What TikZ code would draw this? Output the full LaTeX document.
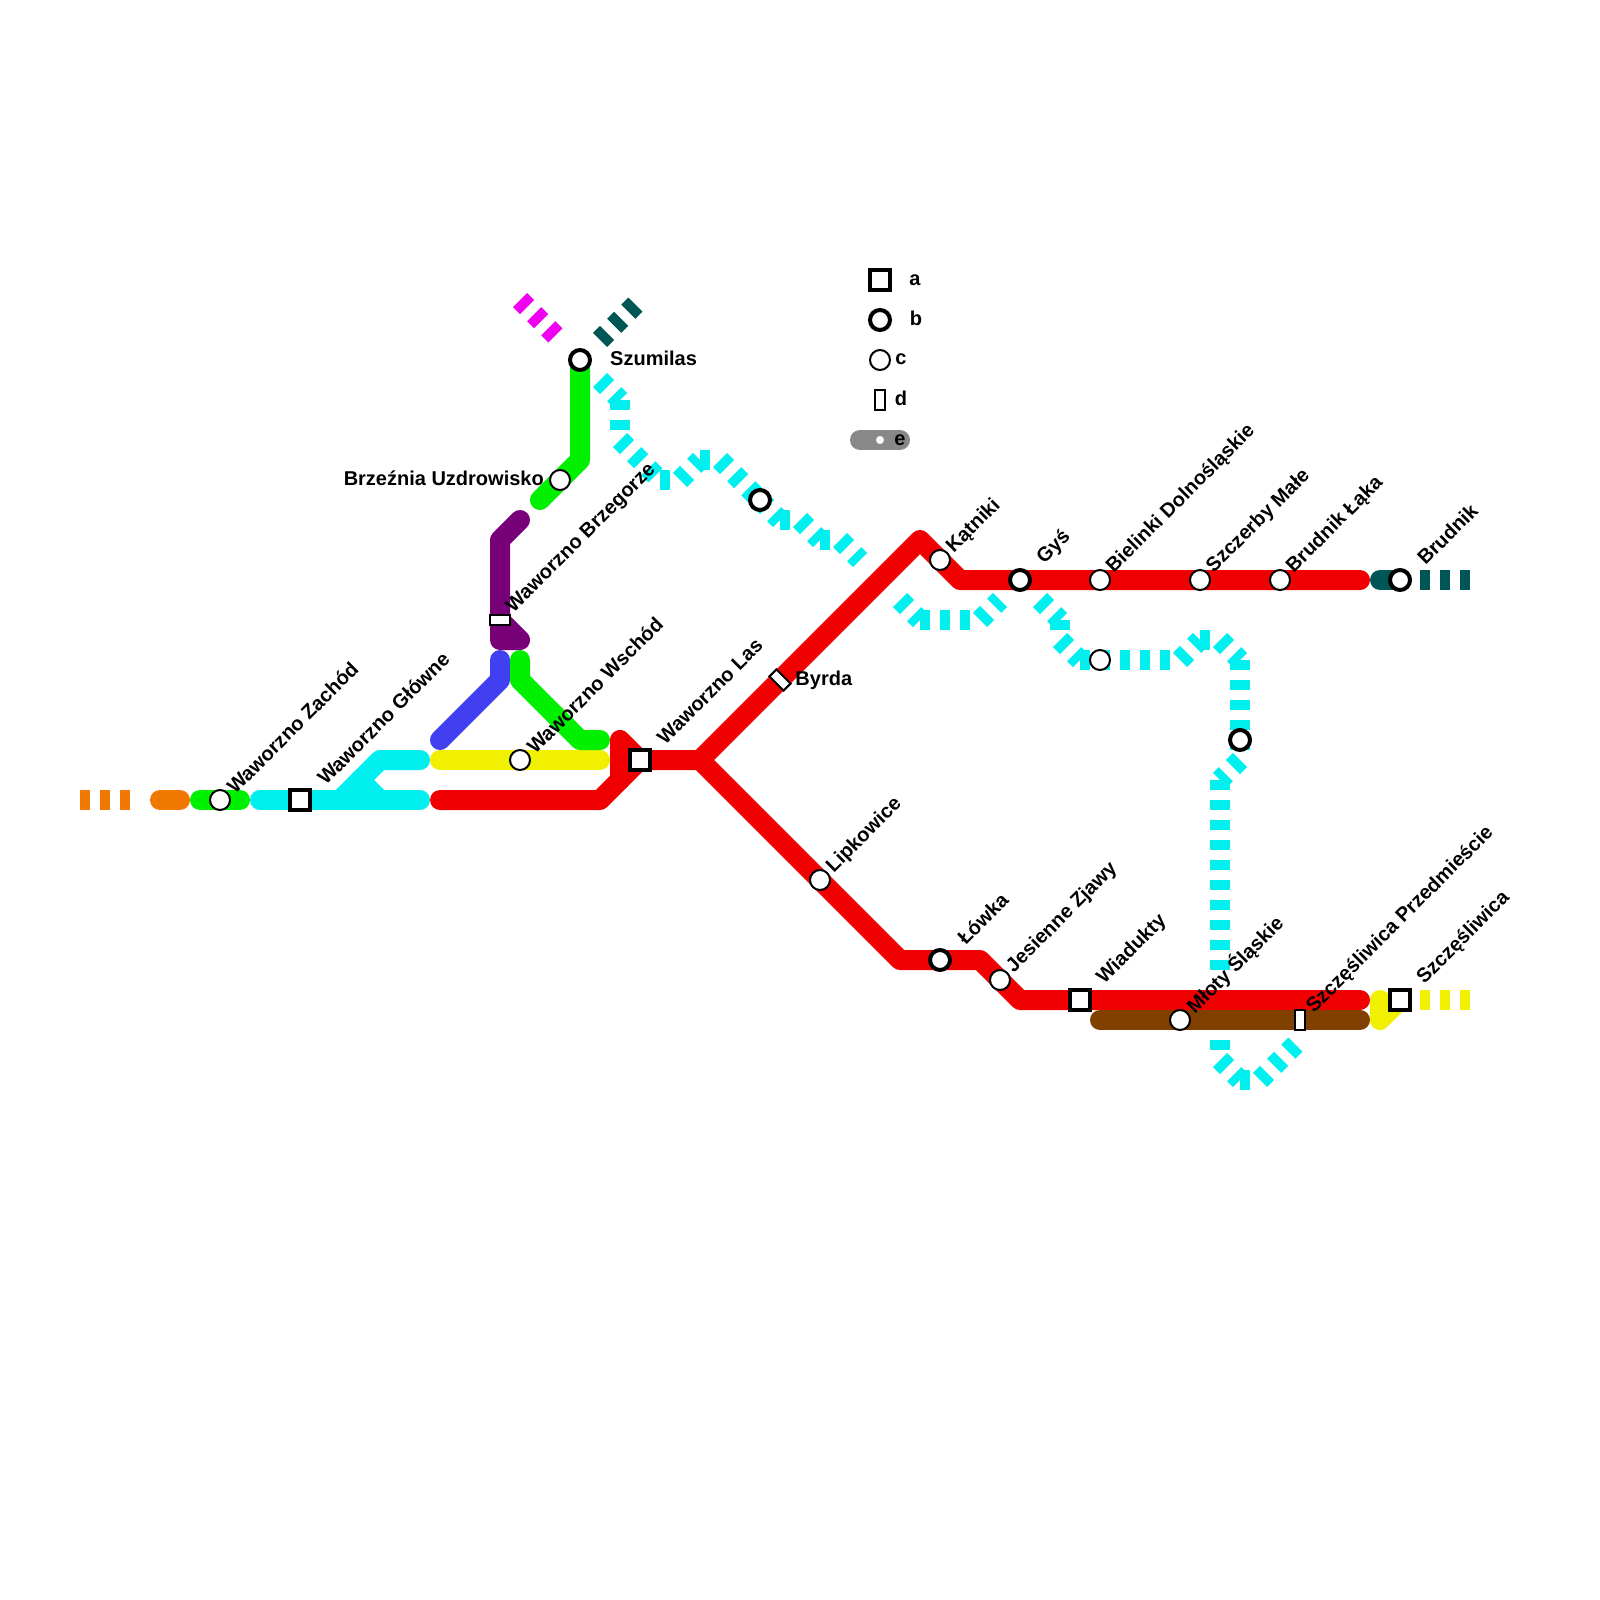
\documentclass[tikz,border=0pt]{standalone}
\usepackage{fontspec}
\setmainfont{Liberation Sans}
\usetikzlibrary{backgrounds, positioning}
\definecolor{lineorange}{HTML}{F07800}
\definecolor{linegreen}{HTML}{00F000}
\definecolor{linecyan}{HTML}{00F0F0}
\definecolor{lineyellow}{HTML}{F0F000}
\definecolor{linered}{HTML}{F00000}
\definecolor{lineblue}{HTML}{4040F0}
\definecolor{linepurple}{HTML}{780078}
\definecolor{linepink}{HTML}{F000F0}
\definecolor{lineteal}{HTML}{005555}
\definecolor{linebrown}{HTML}{804000}
\definecolor{linegrey}{HTML}{888888}
\begin{document}
\begin{tikzpicture}[
        x=1pt, y=-1pt,
        line/.style={line width=20pt, line cap=round, line join=round},
        dashline/.style={line width=20pt, dash pattern=on 10pt off 10.02pt},
        stop/.style={circle, draw=black, fill=white, line width=2pt, minimum size=20pt, inner sep=0pt},
        hub/.style={circle, draw=black, fill=white, line width=4pt, minimum size=20pt, inner sep=0pt},
        interchange/.style={rectangle, draw=black, fill=white, line width=4pt, minimum size=20pt, inner sep=0pt},
        halt/.style={rectangle, draw=black, fill=white, line width=2pt, minimum width=10pt, minimum height=20pt, inner sep=0pt},
        txt/.style={font=\fontsize{20}{24}\selectfont\bfseries, inner sep=0pt},
        stoptxt/.style={txt, rotate=45, anchor=west, xshift=14.3pt, yshift=0pt},
        hubtxt/.style={txt, rotate=45, anchor=west, xshift=28pt, yshift=-1pt}
    ]
        \useasboundingbox (0,0) rectangle (1600,1600);

        % stations
        \node[stop] (zachod) at (220,800) {};
        \node[interchange] (glowne) at (300,800) {};
        \node[stop] (wschod) at (520,760) {};
        \node[halt, rotate=90] (brzegorze) at (500,620) {};
        \node[stop] (brzeznia) at (560,480) {};
        \node[hub] (szumilas) at (580,360) {};
        \node[interchange] (las) at (640,760) {};
        \node[hub] (bezimienna) at (760,500) {};
        \node[halt, rotate=45] (byrda) at (780,680) {};
        \node[stop] (lipkowice) at (820,880) {};
        \node[stop] (katniki) at (940,560) {};
        \node[hub] (gys) at (1020,580) {};
        \node[stop] (bielinki) at (1100,580) {};
        \node[stop] (szczerby) at (1200,580) {};
        \node[stop] (laka) at (1280,580) {};
        \node[hub] (brudnik) at (1400,580) {};
        \node[stop] (polana) at (1100,660) {};
        \node[hub] (skarpa) at (1240,740) {};
        \node[hub] (lowka) at (940,960) {};
        \node[stop] (zjawy) at (1000,980) {};
        \node[interchange] (wiadukty) at (1080,1000) {};
        \node[stop] (mloty) at (1180,1020) {};
        \node[halt] (przedm) at (1300,1020) {};
        \node[interchange] (szczes) at (1400,1000) {};

        % station names
        \node[stoptxt] (tzachod) at (zachod) {Waworzno Zachód};
        \node[hubtxt] (tglowne) at (glowne) {Waworzno Główne};
        \node[stoptxt] (twschod) at (wschod) {Waworzno Wschód};
        \node[stoptxt] (tbrzegorze) at (brzegorze) {Waworzno Brzegorze};
        \node[txt, left=5pt of brzeznia, yshift=2pt] (tbrzeznia) {Brzeźnia Uzdrowisko};
        \node[txt, right=18pt of szumilas, yshift=2pt] (tszumilas) {Szumilas};
        \node[hubtxt] (tlas) at (las) {Waworzno Las};
        \node[txt, right=11pt of byrda, yshift=-5pt] (tbyrda) {Byrda};
        \node[stoptxt] (tlipkowice) at (lipkowice) {Lipkowice};
        \node[stoptxt] (tkatniki) at (katniki) {Kątniki};
        \node[hubtxt] (tgys) at (gys) {Gyś};
        \node[stoptxt] (tbielinki) at (bielinki) {Bielinki Dolnośląskie};
        \node[stoptxt] (tszczerby) at (szczerby) {Szczerby Małe};
        \node[stoptxt] (tlaka) at (laka) {Brudnik Łąka};
        \node[hubtxt] (tbrudnik) at (brudnik) {Brudnik};
        \node[hubtxt] (tlowka) at (lowka) {Łówka};
        \node[stoptxt] (tzjawy) at (zjawy) {Jesienne Zjawy};
        \node[hubtxt] (twiadukty) at (wiadukty) {Wiadukty};
        \node[stoptxt] (tmloty) at (mloty) {Młoty Śląskie};
        \node[stoptxt] (tprzedm) at (przedm) {Szczęśliwica Przedmieście};
        \node[hubtxt] (tszczes) at (szczes) {Szczęśliwica};

        % legend
        \node[interchange] (keya) at (880,280) {};
        \node[hub] (keyb) at (880,320) {};
        \node[stop] (keyc) at (880,360) {};
        \node[halt] (keyd) at (880,400) {};
        \node[circle, fill=white, minimum size=8pt, inner sep=0pt] (keye) at (880,440) {};
        \node[txt] (ta) at (915,280) {a};
        \node[txt] (tb) at (916,318) {b};
        \node[txt] (tc) at (901,359) {c};
        \node[txt] (td) at (901,398) {d};
        \node[txt] (te) at (900,440) {e};

        % bends and free ends
        \foreach \n/\x/\y in {o1/80/800, o2/140/800, o3/160/800, o4/180/800,
            g1/200/800, g2/240/800, b1/260/800, b2/420/800, b3/340/800, b4/380/760, b5/420/760, b6/360/780, b7/380/800,
            y1/440/760, y2/600/760, y3/1380/1000, y4/1380/1020, y5/1420/1000, y6/1480/1000,
            r1/440/800, r2/600/800, r3/620/740, r4/620/780, r5/700/760, r6/920/540, r7/960/580, r8/1360/580,
            r9/900/960, r10/980/960, r11/1020/1000, r12/1360/1000, br1/1100/1020, br2/1360/1020,
            p1/520/520, p2/500/540, p3/500/640, p4/520/640,
            n1/500/660, n2/500/680, n3/440/740, g3/520/660, g4/520/680, g5/580/740, g6/600/740, g7/580/460, g8/540/500,
            m1/520/300, m2/560/340, t1/600/340, t2/640/300, t3/1380/580, t4/1420/580, t5/1480/580,
            k1/860/440, k2/900/440,
            c1/600/380, c2/620/400, c3/620/440, c4/660/480, c5/680/480, c6/700/460, c7/720/460,
            c9/780/520, c10/800/520, c11/820/540, c12/840/540, c13/860/560,
            c14/900/600, c15/920/620, c16/980/620, c17/1000/600,
            c18/1040/600, c19/1060/620, c20/1060/640, c21/1080/660, c22/1180/660, c23/1200/640, c24/1220/640,
            c25/1240/660, c26/1240/760, c27/1220/780, c32/1220/980, c33/1220/1040, c28/1220/1060, c29/1240/1080, c30/1260/1080, c31/1300/1040}
            \coordinate (\n) at (\x,\y);

        \begin{pgfonlayer}{background}
            % dashed lines
            \foreach \a/\b in {c1/c2, c2/c3, c3/c4, c4/c5, c5/c6, c6/c7, c7/bezimienna.center, bezimienna.center/c9, c9/c10, c10/c11, c11/c12, c12/c13,
                c14/c15, c15/c16, c16/c17, c18/c19, c19/c20, c20/c21, c21/c22, c22/c23, c23/c24, c24/c25, c25/c26, c26/c27, c27/c32, c33/c28, c28/c29, c29/c30, c30/c31}
                \draw[dashline, linecyan] (\a) -- (\b);
            \draw[dashline, lineorange] (o1) -- (o2);
            \draw[dashline, lineyellow] (y5) -- (y6);
            \draw[dashline, linepink] (m1) -- (m2);
            \draw[dashline, lineteal] (t1) -- (t2);
            \draw[dashline, lineteal] (t4) -- (t5);

            % solid lines
            \draw[line, lineorange] (o3) -- (o4);
            \draw[line, linegreen] (g1) -- (g2);
            \draw[line, linecyan] (b1) -- (b2);
            \draw[line, linecyan] (b3) -- (b4) -- (b5);
            \draw[line, linecyan] (b6) -- (b7);
            \draw[line, lineyellow] (y1) -- (y2);
            \draw[line, lineyellow] (y3) -- (y4) -- (szczes.center);
            \draw[line, linered] (r1) -- (r2) -- (las.center) -- (r5);
            \draw[line, linered] (r4) -- (r3) -- (las.center);
            \draw[line, linered] (r5) -- (r6) -- (r7) -- (r8);
            \draw[line, linered] (r5) -- (r9) -- (r10) -- (r11) -- (r12);
            \draw[line, linebrown] (br1) -- (br2);
            \draw[line, linepurple] (p1) -- (p2) -- (p3) -- (p4) -- (brzegorze.center);
            \draw[line, lineblue] (n1) -- (n2) -- (n3);
            \draw[line, linegreen] (g3) -- (g4) -- (g5) -- (g6);
            \draw[line, linegreen] (szumilas.center) -- (g7) -- (g8);
            \draw[line, lineteal] (t3) -- (brudnik.center);
            \draw[line, linegrey] (k1) -- (k2);
        \end{pgfonlayer}
    \end{tikzpicture}
\end{document}
